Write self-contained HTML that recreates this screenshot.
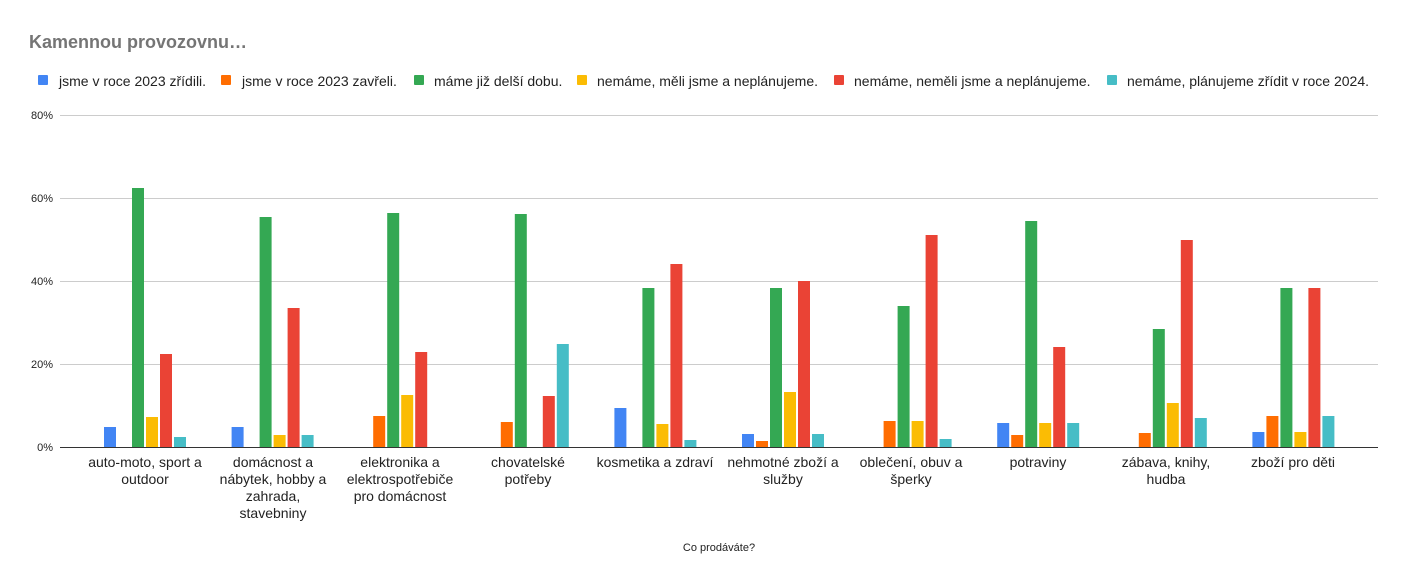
<!DOCTYPE html>
<html><head><meta charset="utf-8"><style>
body{margin:0;background:#fff;}
svg{display:block;font-family:"Liberation Sans",Arial,sans-serif;}
</style></head><body>
<svg width="1408" height="583" viewBox="0 0 1408 583">
<rect width="1408" height="583" fill="#fff"/>
<text x="29" y="48" font-size="18" font-weight="bold" fill="#757575">Kamennou provozovnu…</text>
<g font-size="14" fill="#222">
<rect x="38" y="75" width="10" height="10" rx="1" fill="#4285f4"/><text x="59" y="86">jsme v roce 2023 zřídili.</text>
<rect x="221" y="75" width="10" height="10" rx="1" fill="#ff6d01"/><text x="242" y="86">jsme v roce 2023 zavřeli.</text>
<rect x="414" y="75" width="10" height="10" rx="1" fill="#34a853"/><text x="434" y="86">máme již delší dobu.</text>
<rect x="577" y="75" width="10" height="10" rx="1" fill="#fbbc04"/><text x="597" y="86">nemáme, měli jsme a neplánujeme.</text>
<rect x="834" y="75" width="10" height="10" rx="1" fill="#ea4335"/><text x="854" y="86">nemáme, neměli jsme a neplánujeme.</text>
<rect x="1107" y="75" width="10" height="10" rx="1" fill="#46bdc6"/><text x="1127" y="86">nemáme, plánujeme zřídit v roce 2024.</text>
</g>
<g stroke="#ccc" stroke-width="1">
<line x1="60" y1="115.5" x2="1378" y2="115.5"/>
<line x1="60" y1="198.5" x2="1378" y2="198.5"/>
<line x1="60" y1="281.5" x2="1378" y2="281.5"/>
<line x1="60" y1="364.5" x2="1378" y2="364.5"/>
</g>
<g font-size="11" fill="#222" text-anchor="end">
<text x="53" y="119">80%</text><text x="53" y="202">60%</text><text x="53" y="285">40%</text><text x="53" y="368">20%</text><text x="53" y="451">0%</text>
</g>
<g>
<rect x="104" y="427" width="12" height="20" fill="#4285f4"/>
<rect x="132" y="188" width="12" height="259" fill="#34a853"/>
<rect x="146" y="417" width="12" height="30" fill="#fbbc04"/>
<rect x="160" y="354" width="12" height="93" fill="#ea4335"/>
<rect x="174" y="437" width="12" height="10" fill="#46bdc6"/>
<rect x="231.6" y="427" width="12" height="20" fill="#4285f4"/>
<rect x="259.6" y="217" width="12" height="230" fill="#34a853"/>
<rect x="273.6" y="435" width="12" height="12" fill="#fbbc04"/>
<rect x="287.6" y="308" width="12" height="139" fill="#ea4335"/>
<rect x="301.6" y="435" width="12" height="12" fill="#46bdc6"/>
<rect x="373.2" y="416" width="12" height="31" fill="#ff6d01"/>
<rect x="387.2" y="213" width="12" height="234" fill="#34a853"/>
<rect x="401.2" y="395" width="12" height="52" fill="#fbbc04"/>
<rect x="415.2" y="352" width="12" height="95" fill="#ea4335"/>
<rect x="500.8" y="422" width="12" height="25" fill="#ff6d01"/>
<rect x="514.8" y="214" width="12" height="233" fill="#34a853"/>
<rect x="542.8" y="396" width="12" height="51" fill="#ea4335"/>
<rect x="556.8" y="344" width="12" height="103" fill="#46bdc6"/>
<rect x="614.4" y="408" width="12" height="39" fill="#4285f4"/>
<rect x="642.4" y="288" width="12" height="159" fill="#34a853"/>
<rect x="656.4" y="424" width="12" height="23" fill="#fbbc04"/>
<rect x="670.4" y="264" width="12" height="183" fill="#ea4335"/>
<rect x="684.4" y="440" width="12" height="7" fill="#46bdc6"/>
<rect x="742" y="434" width="12" height="13" fill="#4285f4"/>
<rect x="756" y="441" width="12" height="6" fill="#ff6d01"/>
<rect x="770" y="288" width="12" height="159" fill="#34a853"/>
<rect x="784" y="392" width="12" height="55" fill="#fbbc04"/>
<rect x="798" y="281" width="12" height="166" fill="#ea4335"/>
<rect x="812" y="434" width="12" height="13" fill="#46bdc6"/>
<rect x="883.6" y="421" width="12" height="26" fill="#ff6d01"/>
<rect x="897.6" y="306" width="12" height="141" fill="#34a853"/>
<rect x="911.6" y="421" width="12" height="26" fill="#fbbc04"/>
<rect x="925.6" y="235" width="12" height="212" fill="#ea4335"/>
<rect x="939.6" y="439" width="12" height="8" fill="#46bdc6"/>
<rect x="997.2" y="423" width="12" height="24" fill="#4285f4"/>
<rect x="1011.2" y="435" width="12" height="12" fill="#ff6d01"/>
<rect x="1025.2" y="221" width="12" height="226" fill="#34a853"/>
<rect x="1039.2" y="423" width="12" height="24" fill="#fbbc04"/>
<rect x="1053.2" y="347" width="12" height="100" fill="#ea4335"/>
<rect x="1067.2" y="423" width="12" height="24" fill="#46bdc6"/>
<rect x="1138.8" y="433" width="12" height="14" fill="#ff6d01"/>
<rect x="1152.8" y="329" width="12" height="118" fill="#34a853"/>
<rect x="1166.8" y="403" width="12" height="44" fill="#fbbc04"/>
<rect x="1180.8" y="240" width="12" height="207" fill="#ea4335"/>
<rect x="1194.8" y="418" width="12" height="29" fill="#46bdc6"/>
<rect x="1252.4" y="432" width="12" height="15" fill="#4285f4"/>
<rect x="1266.4" y="416" width="12" height="31" fill="#ff6d01"/>
<rect x="1280.4" y="288" width="12" height="159" fill="#34a853"/>
<rect x="1294.4" y="432" width="12" height="15" fill="#fbbc04"/>
<rect x="1308.4" y="288" width="12" height="159" fill="#ea4335"/>
<rect x="1322.4" y="416" width="12" height="31" fill="#46bdc6"/>
</g>
<line x1="60" y1="447.5" x2="1378" y2="447.5" stroke="#333" stroke-width="1"/>
<g font-size="14" fill="#222" text-anchor="middle">
<text x="145" y="467">auto-moto, sport a</text><text x="145" y="484">outdoor</text>
<text x="273" y="467">domácnost a</text><text x="273" y="484">nábytek, hobby a</text><text x="273" y="501">zahrada,</text><text x="273" y="518">stavebniny</text>
<text x="400" y="467">elektronika a</text><text x="400" y="484">elektrospotřebiče</text><text x="400" y="501">pro domácnost</text>
<text x="528" y="467">chovatelské</text><text x="528" y="484">potřeby</text>
<text x="655" y="467">kosmetika a zdraví</text>
<text x="783" y="467">nehmotné zboží a</text><text x="783" y="484">služby</text>
<text x="911" y="467">oblečení, obuv a</text><text x="911" y="484">šperky</text>
<text x="1038" y="467">potraviny</text>
<text x="1166" y="467">zábava, knihy,</text><text x="1166" y="484">hudba</text>
<text x="1293" y="467">zboží pro děti</text>
<text x="719" y="551" font-size="11">Co prodáváte?</text>
</g>
</svg>
</body></html>
